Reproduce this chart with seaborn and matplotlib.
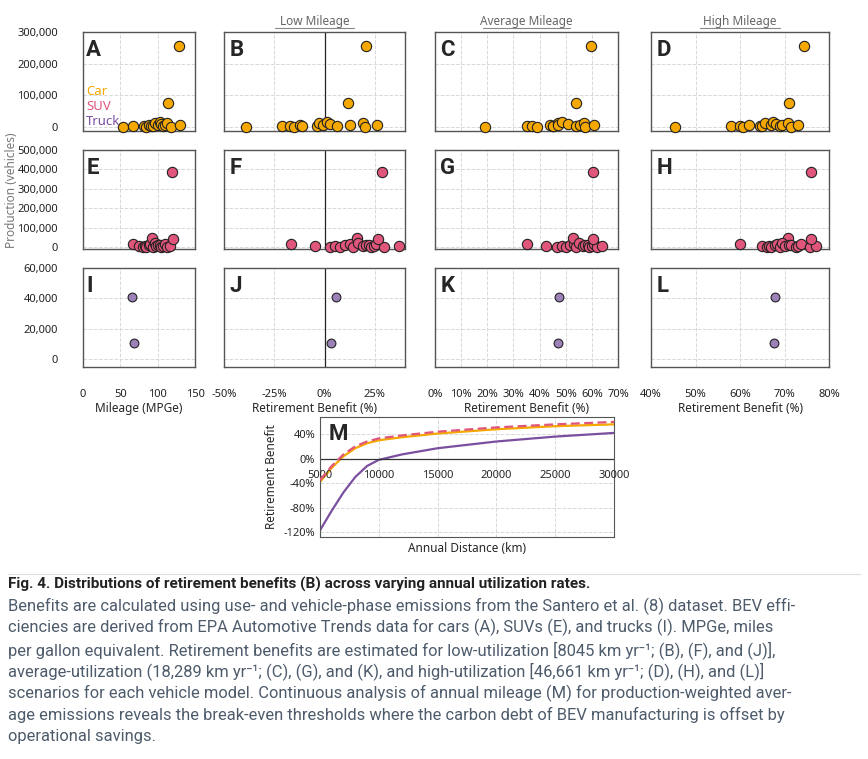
import numpy as np
import matplotlib
matplotlib.use("Agg")
import matplotlib.pyplot as plt
import seaborn as sns
import pandas as pd
from matplotlib.ticker import FuncFormatter
from matplotlib.lines import Line2D

sns.set_style("white")
plt.rcParams['font.family'] = ['Noto Sans', 'DejaVu Sans']

# ---------------- data ----------------
car_mpge = [53, 67, 82, 85, 88, 91, 94, 96, 100, 103, 105, 107, 110, 112, 114, 118, 129, 130]
car_low = [-39, -21, -17, -15, -12, -11, -4, -3, -1, 1, 2.6, 6, 12.5, 19, 11.5, 20, 20.8, 26]
car_avg = [19, 35, 37, 39, 44, 45, 45, 47, 47, 48.6, 51, 54, 55.5, 57, 54, 57.5, 59.7, 61]
car_high = [45.5, 58, 60, 60.7, 62, 64.4, 65, 65.6, 67, 67.5, 68, 69, 69.5, 70.7, 71, 71.5, 74.4, 73]
car_prod = [2000, 3000, 4000, 1000, 8000, 5000, 3000, 12000, 6000, 15000, 9000, 4000, 7000,
            13000, 75000, 2000, 255000, 8000]

suv_mpge = [67, 75, 80, 83, 85, 88, 90, 92, 94, 96, 98, 100, 103, 105, 107, 110, 113, 116, 119, 121]
suv_low = [-16.6, -5, 2.6, 5, 7.5, 10, 12.5, 16, 14, 16.5, 19, 20.8, 22, 23, 24.8, 25.5, 29.7, 37, 28.7, 26.7]
suv_avg = [35, 42.5, 46.7, 48.6, 50, 51.6, 53, 52.8, 54, 55, 56.6, 57.5, 58.5, 59, 60, 61, 62, 64, 60.5, 60.4]
suv_high = [60, 65, 66, 66.5, 67, 67.8, 68.4, 70.7, 69, 69.5, 70, 71, 71.5, 72.5, 73, 73.8, 75.8, 77, 76, 76]
suv_prod = [20000, 5000, 2000, 8000, 3000, 12000, 18000, 50000, 4000, 25000, 6000, 10000, 15000,
            3000, 7000, 20000, 2000, 9000, 385000, 45000]

truck_mpge = [66, 68]
truck_low = [5.5, 3.4]
truck_avg = [47.6, 47.0]
truck_high = [67.8, 67.7]
truck_prod = [41000, 11000]

distance_km = [5000, 6000, 7000, 8000, 9000, 10000, 12000, 15000, 20000, 25000, 30000]
car_curve = [-38, -15, 4, 17, 25, 30, 35, 41, 48, 53, 56]
suv_curve = [-35, -12, 7, 20, 28, 33, 38, 44, 51, 56, 60]
truck_curve = [-117, -85, -55, -30, -12, -2, 7, 17, 28, 36, 42]

C_CAR, C_SUV, C_TRUCK, C_TRUCK_LINE = "#F5A800", "#E0557A", "#9C80B8", "#7B4FA0"

# ---------------- layout ----------------
W, H = 868, 759
fig = plt.figure(figsize=(W / 100, H / 100), dpi=100)

def add_ax(x0, x1, y0, y1):
    return fig.add_axes([x0 / W, 1 - y1 / H, (x1 - x0) / W, (y1 - y0) / H])

cols = [(83, 195), (224, 405), (435, 618), (651, 829)]
rows = [(32, 131), (150, 249), (268, 367)]

groups = [
    ("Car", C_CAR, car_mpge, car_low, car_avg, car_high, car_prod, (-12000, 290000), [0, 100000, 200000, 300000]),
    ("SUV", C_SUV, suv_mpge, suv_low, suv_avg, suv_high, suv_prod, (-8000, 490000), [0, 100000, 200000, 300000, 400000, 500000]),
    ("Truck", C_TRUCK, truck_mpge, truck_low, truck_avg, truck_high, truck_prod, (-5000, 58700), [0, 20000, 40000, 60000]),
]
col_x = [((0, 150), [0, 50, 100, 150], "{:.0f}"),
         ((-50, 40), [-50, -25, 0, 25], "{:.0f}%"),
         ((0, 70), [0, 10, 20, 30, 40, 50, 60, 70], "{:.0f}%"),
         ((40, 80), [40, 50, 60, 70, 80], "{:.0f}%")]
letters = "ABCDEFGHIJKL"

for r, (name, color, mpge, low, avg, high, prod, ylim, yticks) in enumerate(groups):
    df = pd.DataFrame({"x0": mpge, "x1": low, "x2": avg, "x3": high, "prod": prod})
    for c in range(4):
        ax = add_ax(*cols[c], *rows[r])
        sns.scatterplot(data=df, x=f"x{c}", y="prod", ax=ax, color=color, s=55 if r < 2 else 40,
                        edgecolor="#222222", linewidth=0.8, zorder=3, clip_on=False)
        xlim, xt, fmt = col_x[c]
        ax.set_xlim(xlim)
        ax.set_ylim(ylim)
        ax.set_xticks(xt)
        ax.set_yticks(yticks)
        ax.grid(True, color="#d8d8d8", linestyle="--", linewidth=0.7)
        ax.set_axisbelow(True)
        for s in ax.spines.values():
            s.set_color("#555555")
            s.set_linewidth(1.0)
        ax.set_xlabel("")
        ax.set_ylabel("")
        ax.tick_params(length=0, labelsize=8, colors="#222222")
        if c == 1:
            ax.axvline(0, color="#222222", linewidth=0.9, zorder=2)
        if c == 0:
            ax.yaxis.set_major_formatter(FuncFormatter(lambda v, p: f"{v:,.0f}"))
            ax.tick_params(axis="y", pad=18)
        else:
            ax.set_yticklabels([])
        if r == 2:
            ax.xaxis.set_major_formatter(FuncFormatter(lambda v, p, f=fmt: f.format(v)))
            ax.tick_params(axis="x", pad=16)
            lbl = "Mileage (MPGe)" if c == 0 else "Retirement Benefit (%)"
            ax.set_xlabel(lbl, fontsize=8.5, labelpad=1)
        else:
            ax.set_xticklabels([])
        ax.text(0.03, 0.93, letters[r * 4 + c], transform=ax.transAxes, fontsize=16,
                fontweight="bold", va="top", ha="left", family="Roboto")
        if r == 0 and c == 0:
            for i, (t, tc) in enumerate([("Car", C_CAR), ("SUV", C_SUV), ("Truck", C_TRUCK_LINE)]):
                ax.text(0.03, 0.40 - i * 0.15, t, transform=ax.transAxes, color=tc,
                        fontsize=9.5, va="center")

# column headers
for c, t in [(1, "Low Mileage"), (2, "Average Mileage"), (3, "High Mileage")]:
    xm = (cols[c][0] + cols[c][1]) / 2 / W
    fig.text(xm, 1 - 22 / H, t, ha="center", va="center", fontsize=8.5, color="#666666")
    fig.add_artist(Line2D([xm - 0.032 - len(t) * 0.0012, xm + 0.032 + len(t) * 0.0012],
                          [1 - 28 / H] * 2, color="#888888", linewidth=0.8))

fig.text(12 / W, 1 - 190 / H, "Production (vehicles)", rotation=90, ha="center", va="center",
         fontsize=8.5, color="#777777")

# ---------------- panel M ----------------
axm = add_ax(320, 614, 417, 537)
dm = pd.DataFrame({"km": distance_km * 3,
                   "benefit": car_curve + suv_curve + truck_curve,
                   "type": ["Car"] * len(distance_km) + ["SUV"] * len(distance_km) + ["Truck"] * len(distance_km)})
sns.lineplot(data=dm, x="km", y="benefit", hue="type", style="type", ax=axm,
             palette={"Car": C_CAR, "SUV": C_SUV, "Truck": C_TRUCK_LINE},
             dashes={"Car": "", "SUV": (4, 2), "Truck": ""}, linewidth=1.6, legend=False)
axm.lines[1].set_zorder(4)
axm.set_xlim(5000, 30000)
axm.set_ylim(-128, 68)
axm.set_yticks([40, 0, -40, -80, -120])
axm.set_yticklabels(["40%", "0%", "-40%", "-80%", "-120%"])
axm.set_xticks([5000, 10000, 15000, 20000, 25000, 30000])
axm.set_xticklabels([])
for xv in [5000, 10000, 15000, 20000, 25000, 30000]:
    axm.text(xv, -28, str(xv), ha="center", va="center", fontsize=8)
axm.axhline(0, color="#333333", linewidth=0.9)
axm.grid(True, color="#d8d8d8", linestyle="--", linewidth=0.7)
axm.set_axisbelow(True)
for s in axm.spines.values():
    s.set_color("#555555")
axm.tick_params(length=0, labelsize=8)
axm.set_xlabel("Annual Distance (km)", fontsize=8.5, labelpad=0)
axm.set_ylabel("Retirement Benefit", fontsize=8.5)
axm.text(0.03, 0.95, "M", transform=axm.transAxes, fontsize=16, fontweight="bold",
         va="top", family="Roboto")

# ---------------- caption ----------------
fig.add_artist(Line2D([8 / W, 860 / W], [1 - 574 / H] * 2, color="#dddddd", linewidth=0.8))
fig.text(8 / W, 1 - 584 / H, "Fig. 4. Distributions of retirement benefits (B) across varying annual utilization rates.",
         fontsize=11, fontweight="bold", color="#222222", va="center", family="Roboto")
caption = [
    "Benefits are calculated using use- and vehicle-phase emissions from the Santero et al. (8) dataset. BEV effi-",
    "ciencies are derived from EPA Automotive Trends data for cars (A), SUVs (E), and trucks (I). MPGe, miles",
    "per gallon equivalent. Retirement benefits are estimated for low-utilization [8045 km yr⁻¹; (B), (F), and (J)],",
    "average-utilization (18,289 km yr⁻¹; (C), (G), and (K), and high-utilization [46,661 km yr⁻¹; (D), (H), and (L)]",
    "scenarios for each vehicle model. Continuous analysis of annual mileage (M) for production-weighted aver-",
    "age emissions reveals the break-even thresholds where the carbon debt of BEV manufacturing is offset by",
    "operational savings.",
]
for i, line in enumerate(caption):
    fig.text(8 / W, 1 - (606 + i * 21.8) / H, line, fontsize=11.9, color="#4d5b6b", va="center",
             family="Roboto")

fig.savefig("out.png", dpi=100)
